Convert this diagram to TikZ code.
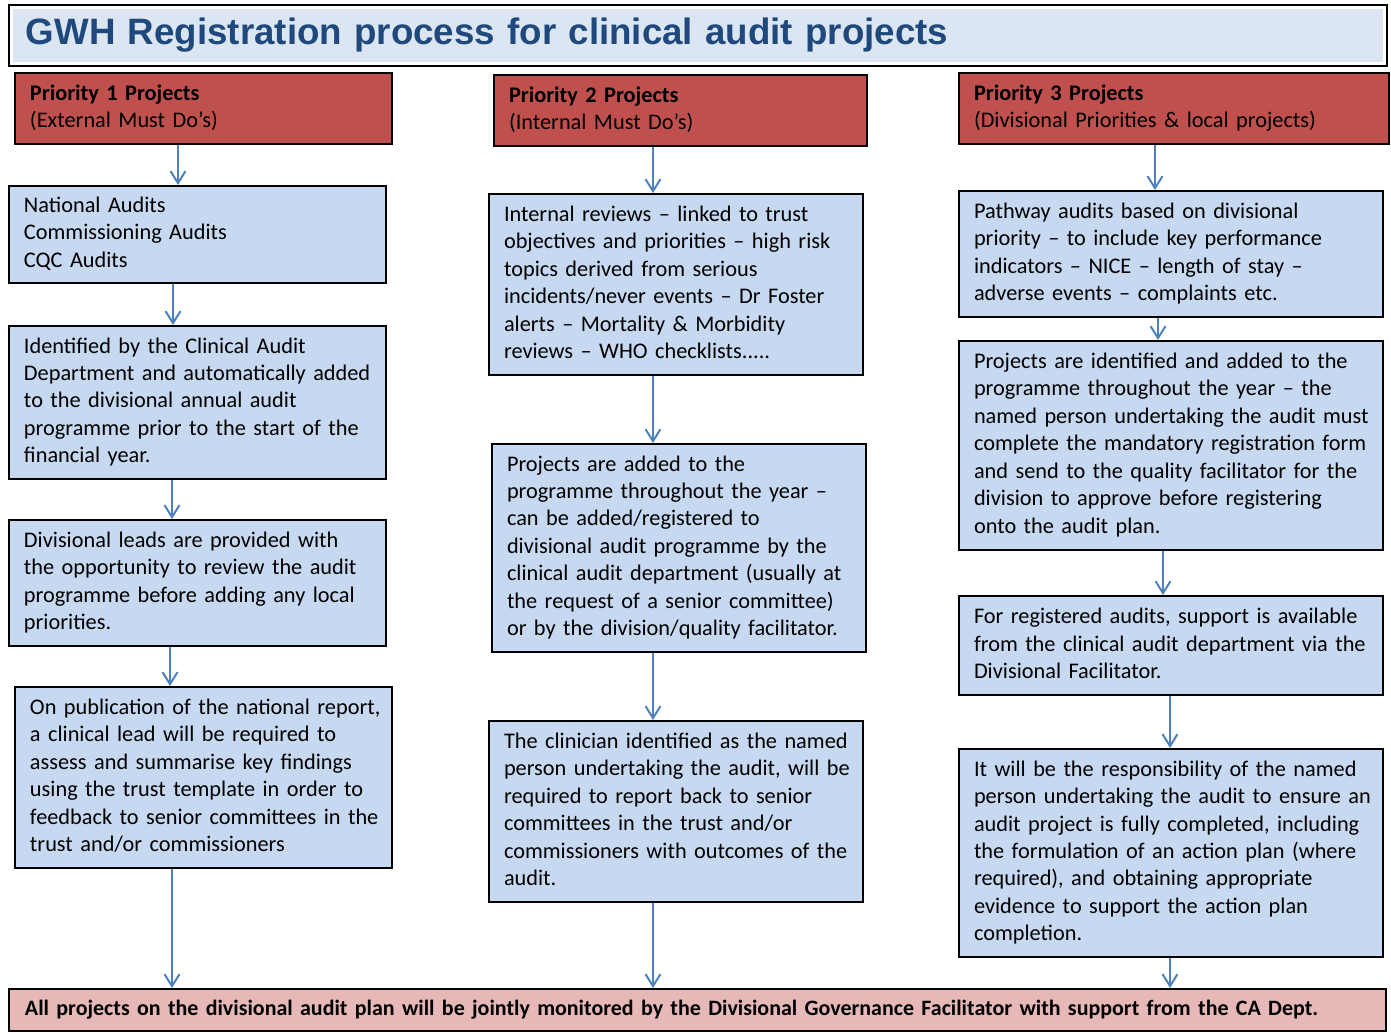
\documentclass[tikz,border=0pt]{standalone}
\usepackage{fontspec}
\setmainfont{Carlito}
\newfontfamily\headfont{Liberation Sans}
\usepackage{tikz}
\usetikzlibrary{arrows.meta}
\definecolor{stagefill}{HTML}{C6D9F1}
\definecolor{priofill}{HTML}{C0504D}
\definecolor{planfill}{HTML}{E6B9B8}
\definecolor{titlefill}{HTML}{DCE6F2}
\definecolor{titleblue}{HTML}{1F497D}
\definecolor{flowblue}{HTML}{4F81BD}
% keep each typed line on one line
\newcommand{\boxlines}[1]{\begin{tabular}{@{}l@{}}#1\end{tabular}}
\tikzset{
stage/.style = {rectangle, draw=black, line width=0.04cm, fill=stagefill,
                anchor=north west, align=left, inner xsep=0.3cm,
                font=\fontsize{12.7}{15.65}\selectfont},
prio/.style = {stage, fill=priofill},
flow/.style = {-{Straight Barb[length=0.24cm, width=0.3cm]}, draw=flowblue,
               line width=0.04cm}
}
\tikzset{
titlebar/.style = {rectangle, draw=black, line width=0.04cm, fill=white,
                   anchor=north west, align=left, inner xsep=0.34cm,
                   minimum height=1.22cm, text=titleblue,
                   font=\headfont\bfseries\fontsize{20.9}{25}\selectfont,
                   path picture={\fill[titlefill]
                     ([shift={(4,4)}]path picture bounding box.north west) rectangle
                     ([shift={(-4,-4)}]path picture bounding box.south east);}}
}

\begin{document}
\begin{tikzpicture}[x=0.02cm, y=-0.02cm]
\useasboundingbox (0,0) rectangle (1391,1032);

\node[titlebar, text width=26.88cm] (title) at (8,4) {GWH Registration process for clinical audit projects};

% priority 1 column
\node[prio, text width=6.94cm, minimum height=1.42cm] (prio1) at (14,72) {\boxlines{\textbf{Priority 1 Projects}\\(External Must Do’s)}};
\node[stage, text width=6.94cm, minimum height=1.94cm] (national) at (8,185) {\boxlines{National Audits\\Commissioning Audits\\CQC Audits}};
\node[stage, text width=6.94cm, minimum height=3.06cm] (identified) at (8,325) {\boxlines{Identified by the Clinical Audit\\Department and automatically added\\to the divisional annual audit\\programme prior to the start of the\\financial year.}};
\node[stage, text width=6.94cm, minimum height=2.52cm] (leads) at (8,519) {\boxlines{Divisional leads are provided with\\the opportunity to review the audit\\programme before adding any local\\priorities.}};
\node[stage, text width=6.94cm, minimum height=3.62cm] (report) at (14,686) {\boxlines{On publication of the national report,\\a clinical lead will be required to\\assess and summarise key findings\\using the trust template in order to\\feedback to senior committees in the\\trust and/or commissioners}};

% priority 2 column
\node[prio, text width=6.86cm, minimum height=1.42cm] (prio2) at (493,74) {\boxlines{\textbf{Priority 2 Projects}\\(Internal Must Do’s)}};
\node[stage, text width=6.88cm, minimum height=3.62cm] (reviews) at (488,193) {\boxlines{Internal reviews -- linked to trust\\objectives and priorities -- high risk\\topics derived from serious\\incidents/never events -- Dr Foster\\alerts -- Mortality \& Morbidity\\reviews -- WHO checklists.....}};
\node[stage, text width=6.88cm, minimum height=4.16cm] (added) at (491,443) {\boxlines{Projects are added to the\\programme throughout the year --\\can be added/registered to\\divisional audit programme by the\\clinical audit department (usually at\\the request of a senior committee)\\or by the division/quality facilitator.}};
\node[stage, text width=6.88cm, minimum height=3.62cm] (clinician) at (488,720) {\boxlines{The clinician identified as the named\\person undertaking the audit, will be\\required to report back to senior\\committees in the trust and/or\\commissioners with outcomes of the\\audit.}};

% priority 3 column
\node[prio, text width=8.0cm, minimum height=1.42cm] (prio3) at (958,72) {\boxlines{\textbf{Priority 3 Projects}\\(Divisional Priorities \& local projects)}};
\node[stage, text width=7.88cm, minimum height=2.52cm] (pathway) at (958,190) {\boxlines{Pathway audits based on divisional\\priority -- to include key performance\\indicators -- NICE -- length of stay --\\adverse events -- complaints etc.}};
\node[stage, text width=7.88cm, minimum height=4.18cm] (registration) at (958,340) {\boxlines{Projects are identified and added to the\\programme throughout the year -- the\\named person undertaking the audit must\\complete the mandatory registration form\\and send to the quality facilitator for the\\division to approve before registering\\onto the audit plan.}};
\node[stage, text width=7.88cm, minimum height=1.98cm] (support) at (958,595) {\boxlines{For registered audits, support is available\\from the clinical audit department via the\\Divisional Facilitator.}};
\node[stage, text width=7.88cm, minimum height=4.16cm] (responsibility) at (958,748) {\boxlines{It will be the responsibility of the named\\person undertaking the audit to ensure an\\audit project is fully completed, including\\the formulation of an action plan (where\\required), and obtaining appropriate\\evidence to support the action plan\\completion.}};

\node[stage, fill=planfill, text width=26.9cm, inner xsep=0.32cm, minimum height=0.84cm, font=\bfseries\fontsize{12.5}{15}\selectfont] (plan) at (8,988) {All projects on the divisional audit plan will be jointly monitored by the Divisional Governance Facilitator with support from the CA Dept.};

% connectors
\draw[flow] (prio1.south -| 178,0) -- (national.north -| 178,0);
\draw[flow] (national.south -| 173,0) -- (identified.north -| 173,0);
\draw[flow] (identified.south -| 172,0) -- (leads.north -| 172,0);
\draw[flow] (leads.south -| 170,0) -- (report.north -| 170,0);
\draw[flow] (report.south -| 172,0) -- (plan.north -| 172,0);
\draw[flow] (prio2.south -| 653,0) -- (reviews.north -| 653,0);
\draw[flow] (reviews.south -| 653,0) -- (added.north -| 653,0);
\draw[flow] (added.south -| 653,0) -- (clinician.north -| 653,0);
\draw[flow] (clinician.south -| 653,0) -- (plan.north -| 653,0);
\draw[flow] (prio3.south -| 1155,0) -- (pathway.north -| 1155,0);
\draw[flow] (pathway.south -| 1158,0) -- (registration.north -| 1158,0);
\draw[flow] (registration.south -| 1163,0) -- (support.north -| 1163,0);
\draw[flow] (support.south -| 1170,0) -- (responsibility.north -| 1170,0);
\draw[flow] (responsibility.south -| 1170,0) -- (plan.north -| 1170,0);
\end{tikzpicture}
\end{document}
